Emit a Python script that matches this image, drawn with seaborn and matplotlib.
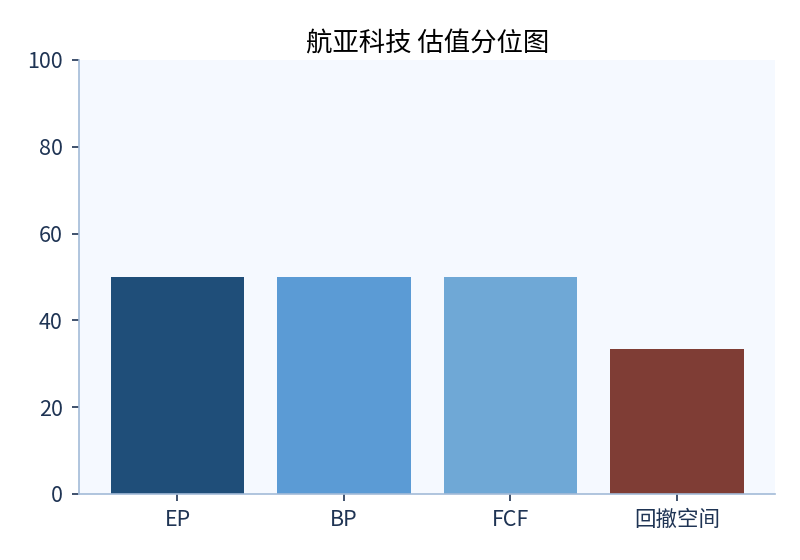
import matplotlib
matplotlib.use("Agg")
import matplotlib.pyplot as plt
import seaborn as sns
import pandas as pd

# data
categories = ["EP", "BP", "FCF", "回撤空间"]
percentiles = [50, 50, 50, 33.4]
bar_colors = ["#1f4e79", "#5b9bd5", "#6fa8d6", "#7f3d35"]

title = "航亚科技 估值分位图"
text_color = "#1f3454"
spine_color = "#a3bbd8"

sns.set_style("white")
plt.rcParams['font.family'] = ['Noto Sans CJK SC', 'DejaVu Sans']

df = pd.DataFrame({"cat": categories, "val": percentiles})

fig, ax = plt.subplots(figsize=(8, 5.6), dpi=100)
fig.subplots_adjust(left=0.099, right=0.969, top=0.893, bottom=0.118)

sns.barplot(data=df, x="cat", y="val", hue="cat", palette=bar_colors,
            width=0.8, saturation=1, legend=False, linewidth=0, ax=ax)

ax.set_facecolor("#f5f9ff")
ax.set_ylim(0, 100)
ax.set_yticks([0, 20, 40, 60, 80, 100])
ax.set_xlim(-0.59, 3.59)
ax.set_xlabel("")
ax.set_ylabel("")
ax.set_title(title, fontsize=19, color="black", pad=6)

for side in ["top", "right"]:
    ax.spines[side].set_visible(False)
for side in ["left", "bottom"]:
    ax.spines[side].set_color(spine_color)
    ax.spines[side].set_linewidth(1.2)

ax.tick_params(axis="both", colors=text_color, labelsize=15.5, length=5, width=1.2,
               left=True, bottom=True)
ax.tick_params(axis="y", pad=7)
ax.tick_params(axis="x", pad=6)

fig.savefig("out.png", dpi=100)
